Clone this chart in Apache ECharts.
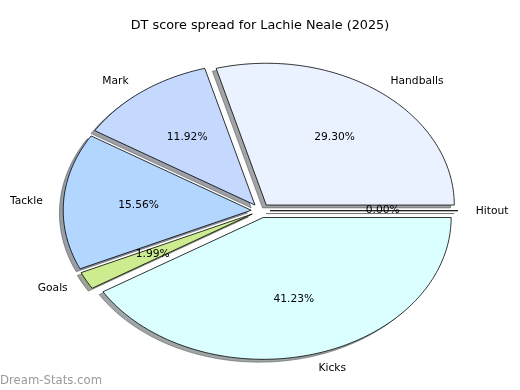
<!DOCTYPE html>
<html>
<head>
<meta charset="utf-8">
<script src="https://cdn.jsdelivr.net/npm/echarts@6/dist/echarts.min.js"></script>
<style>html,body{margin:0;padding:0;background:#fff}#c{width:520px;height:390px}</style>
</head>
<body>
<div id="c"></div>
<script>
const categories = ['Hitout', 'Handballs', 'Mark', 'Tackle', 'Goals', 'Kicks'];
const values = [0.00, 29.30, 11.92, 15.56, 1.99, 41.23];
const colors = ['#f0f0ff', '#eaf2ff', '#c5d9ff', '#b3d6ff', '#ccec8f', '#dbffff'];
const titleText = 'DT score spread for Lachie Neale (2025)';
const watermark = 'Dream-Stats.com';

const EXPLODE = 0.05, LABEL_D = 1.1, PCT_D = 0.6;
const FONT = "'DejaVu Sans', sans-serif";
const total = values.reduce((a, b) => a + b, 0);
const starts = [];
let acc = 0;
values.forEach(v => { starts.push(acc / total * 360); acc += v; });

function hexToRgb(h) {
  return [parseInt(h.substr(1, 2), 16), parseInt(h.substr(3, 2), 16), parseInt(h.substr(5, 2), 16)];
}

function renderItem(params, api) {
  const i = params.dataIndex;
  const v = api.value(2);
  const a1 = starts[i];
  const a2 = a1 + v / total * 360;
  const am = (a1 + a2) / 2 * Math.PI / 180;
  const ox = EXPLODE * Math.cos(am), oy = EXPLODE * Math.sin(am);
  const pts = [[ox, oy]];
  const n = Math.max(2, Math.ceil((a2 - a1) / 1));
  for (let k = 0; k <= n; k++) {
    const t = (a1 + (a2 - a1) * k / n) * Math.PI / 180;
    pts.push([ox + Math.cos(t), oy + Math.sin(t)]);
  }
  const px = pts.map(p => api.coord(p));
  const sh = pts.map(p => api.coord([p[0] - 0.02, p[1] - 0.02]));
  const rgb = hexToRgb(colors[i]).map(c => Math.round(c * 0.3));
  const shColor = 'rgba(' + rgb.join(',') + ',0.5)';
  const lp = api.coord([ox + LABEL_D * Math.cos(am), oy + LABEL_D * Math.sin(am)]);
  const pp = api.coord([ox + PCT_D * Math.cos(am), oy + PCT_D * Math.sin(am)]);
  const right = Math.cos(am) >= 0;
  return {
    type: 'group',
    children: [
      { type: 'polygon', z2: 0, shape: { points: sh },
        style: { fill: shColor, stroke: shColor, lineWidth: 1 } },
      { type: 'polygon', z2: 10, shape: { points: px },
        style: { fill: colors[i], stroke: '#000', lineWidth: 0.8 } },
      { type: 'text', z2: 20, x: lp[0] + (right ? -1 : -2), y: lp[1] + 0.5,
        style: { text: categories[i], fill: '#000', fontSize: 10.7, fontFamily: FONT,
          align: right ? 'left' : 'right', verticalAlign: 'middle' } },
      { type: 'text', z2: 20, x: pp[0], y: pp[1],
        style: { text: (v / total * 100).toFixed(2) + '%', fill: '#000', fontSize: 10.7, fontFamily: FONT,
          align: 'center', verticalAlign: 'middle' } }
    ]
  };
}

const chart = echarts.init(document.getElementById('c'), null, { renderer: 'canvas' });
chart.setOption({
  animation: false,
  backgroundColor: '#fff',
  title: {
    text: titleText, left: 'center', top: 14,
    textStyle: { fontSize: 12.8, fontWeight: 'normal', color: '#000', fontFamily: FONT }
  },
  grid: { left: 25.6, top: 33.45, width: 470, height: 354.5 },
  xAxis: { type: 'value', min: -1.25, max: 1.25, show: false },
  yAxis: { type: 'value', min: -1.25, max: 1.25, show: false },
  series: [{
    type: 'custom',
    coordinateSystem: 'cartesian2d',
    encode: { x: 0, y: 1 },
    data: values.map((v, i) => [0, 0, v]),
    renderItem: renderItem
  }],
  graphic: [{
    type: 'text', left: 0, top: 375,
    style: { text: watermark, fill: '#9a9a9a', fontSize: 11.7, fontFamily: FONT }
  }]
});
</script>
</body>
</html>
